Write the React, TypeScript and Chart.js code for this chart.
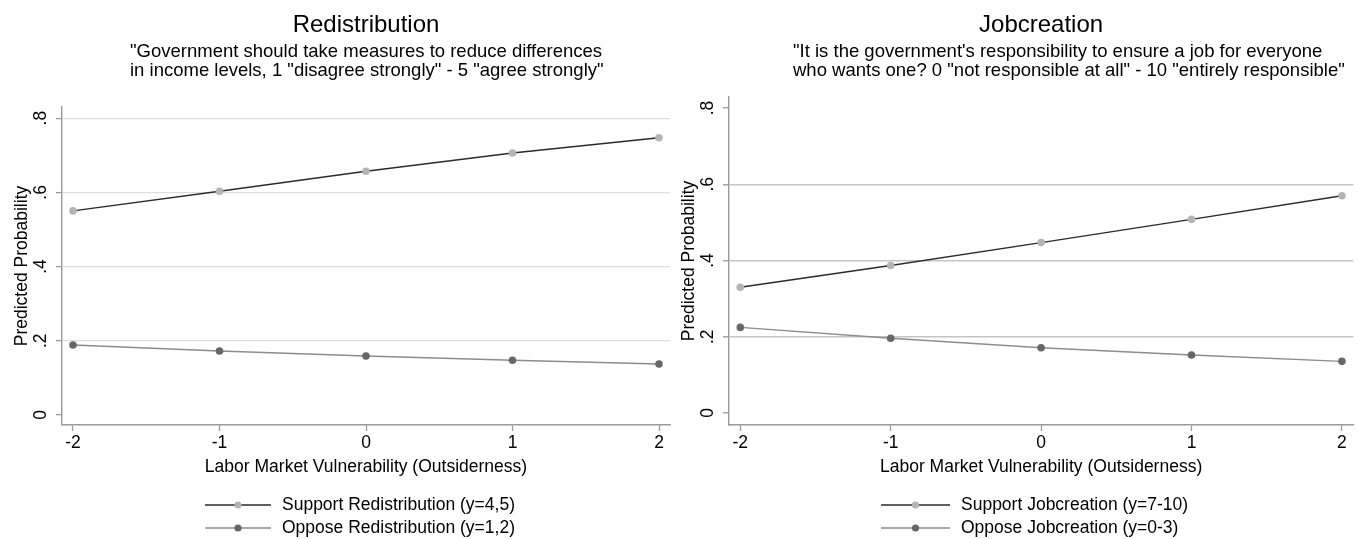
import React, { useEffect, useRef } from "react";
import { Chart, registerables } from "chart.js";

Chart.register(...registerables);

// Shared axes
const xValues = [-2, -1, 0, 1, 2];
const xTicks = [-2, -1, 0, 1, 2];
const xTickLabels = ["-2", "-1", "0", "1", "2"];
const yTicks = [0, 0.2, 0.4, 0.6, 0.8];
const yTickLabels = ["0", ".2", ".4", ".6", ".8"];

// Predicted probabilities by outsiderness
const redistSupport = [0.55, 0.603, 0.657, 0.706, 0.747];
const redistOppose = [0.1886, 0.1724, 0.159, 0.1473, 0.1374];
const jobSupport = [0.33, 0.387, 0.447, 0.508, 0.57];
const jobOppose = [0.2246, 0.196, 0.171, 0.152, 0.1355];

// Text
const redistTitle = "Redistribution";
const redistSubtitle = [
  '"Government should take measures to reduce differences',
  'in income levels, 1 "disagree strongly" - 5 "agree strongly"',
];
const jobTitle = "Jobcreation";
const jobSubtitle = [
  '"It is the government\'s responsibility to ensure a job for everyone',
  'who wants one? 0 "not responsible at all" - 10 "entirely responsible"',
];
const xAxisTitle = "Labor Market Vulnerability (Outsiderness)";
const yAxisTitle = "Predicted Probability";
const redistLegend = ["Support Redistribution (y=4,5)", "Oppose Redistribution (y=1,2)"];
const jobLegend = ["Support Jobcreation (y=7-10)", "Oppose Jobcreation (y=0-3)"];

const FONT = '"Liberation Sans", Arial, Helvetica, sans-serif';
const AXIS = "#9a9a9a";
const SUPPORT_LINE = "#2b2b2b";
const SUPPORT_DOT = "#b4b4b4";
const OPPOSE_LINE = "#8c8c8c";
const OPPOSE_DOT = "#676767";
const H = 539;

type PanelCfg = {
  left: number;
  width: number;
  title: string;
  subtitle: string[];
  subtitleX: number;
  support: number[];
  oppose: number[];
  legend: string[];
  legendLine: [number, number];
  yMin: number;
  yMax: number;
  gridValues: number[];
  gridColor: string;
  gridWidth: number;
  padding: { left: number; right: number; top: number; bottom: number };
};

const panels: PanelCfg[] = [
  {
    left: 0,
    width: 679,
    title: redistTitle,
    subtitle: redistSubtitle,
    subtitleX: 130,
    support: redistSupport,
    oppose: redistOppose,
    legend: redistLegend,
    legendLine: [205, 271],
    yMin: -0.027,
    yMax: 0.83,
    gridValues: [0.2, 0.4, 0.6, 0.8],
    gridColor: "#dedede",
    gridWidth: 1.2,
    padding: { left: 56, right: 9, top: 107, bottom: 108 },
  },
  {
    left: 679,
    width: 678,
    title: jobTitle,
    subtitle: jobSubtitle,
    subtitleX: 114,
    support: jobSupport,
    oppose: jobOppose,
    legend: jobLegend,
    legendLine: [202, 271],
    yMin: -0.0315,
    yMax: 0.829,
    gridValues: [0.2, 0.4, 0.6],
    gridColor: "#c4c4c4",
    gridWidth: 1.5,
    padding: { left: 44, right: 1, top: 97, bottom: 108 },
  },
];

function textPlugin(cfg: PanelCfg) {
  return {
    id: "panelText",
    afterDraw(chart: any) {
      const ctx: CanvasRenderingContext2D = chart.ctx;
      const { left, right, top, bottom } = chart.chartArea;
      const xs = chart.scales.x;
      const ys = chart.scales.y;
      ctx.save();
      ctx.fillStyle = "#000";

      // Title and subtitle
      ctx.font = `24px ${FONT}`;
      ctx.textAlign = "center";
      ctx.textBaseline = "alphabetic";
      ctx.fillText(cfg.title, (left + right) / 2, 32);
      ctx.font = `18.5px ${FONT}`;
      ctx.textAlign = "left";
      cfg.subtitle.forEach((line, i) => ctx.fillText(line, cfg.subtitleX, 57 + i * 19));

      // Y tick labels, rotated
      ctx.font = `17.5px ${FONT}`;
      ctx.textAlign = "center";
      ctx.textBaseline = "middle";
      yTicks.forEach((v, i) => {
        ctx.save();
        ctx.translate(left - 20.5, ys.getPixelForValue(v));
        ctx.rotate(-Math.PI / 2);
        ctx.fillText(yTickLabels[i], 0, 0);
        ctx.restore();
      });
      // Y axis title
      ctx.save();
      ctx.translate(left - 40, (top + bottom) / 2);
      ctx.rotate(-Math.PI / 2);
      ctx.fillText(yAxisTitle, 0, 0);
      ctx.restore();

      // X tick labels and title
      xTicks.forEach((v, i) => ctx.fillText(xTickLabels[i], xs.getPixelForValue(v), bottom + 18));
      ctx.fillText(xAxisTitle, (left + right) / 2, bottom + 42);

      // Legend
      const lineColors = [SUPPORT_LINE, OPPOSE_LINE];
      const dotColors = [SUPPORT_DOT, OPPOSE_DOT];
      const [lx0, lx1] = cfg.legendLine;
      cfg.legend.forEach((label, i) => {
        const y = 505 + i * 23;
        ctx.strokeStyle = lineColors[i];
        ctx.lineWidth = 1.4;
        ctx.beginPath();
        ctx.moveTo(lx0, y);
        ctx.lineTo(lx1, y);
        ctx.stroke();
        ctx.fillStyle = dotColors[i];
        ctx.beginPath();
        ctx.arc((lx0 + lx1) / 2, y, 3.6, 0, Math.PI * 2);
        ctx.fill();
        ctx.fillStyle = "#000";
        ctx.textAlign = "left";
        ctx.fillText(label, 282, y);
      });
      ctx.restore();
    },
  };
}

function Panel({ cfg }: { cfg: PanelCfg }) {
  const ref = useRef<HTMLCanvasElement>(null);
  useEffect(() => {
    if (!ref.current) return;
    const chart = new Chart(ref.current, {
      type: "line",
      data: {
        datasets: [
          {
            label: cfg.legend[0],
            data: xValues.map((x, i) => ({ x, y: cfg.support[i] })),
            borderColor: SUPPORT_LINE,
            borderWidth: 1.4,
            pointRadius: 3.8,
            pointHoverRadius: 3.8,
            pointBackgroundColor: SUPPORT_DOT,
            pointBorderWidth: 0,
            tension: 0,
          },
          {
            label: cfg.legend[1],
            data: xValues.map((x, i) => ({ x, y: cfg.oppose[i] })),
            borderColor: OPPOSE_LINE,
            borderWidth: 1.4,
            pointRadius: 3.8,
            pointHoverRadius: 3.8,
            pointBackgroundColor: OPPOSE_DOT,
            pointBorderWidth: 0,
            tension: 0,
          },
        ],
      },
      options: {
        responsive: false,
        animation: false,
        events: [],
        layout: { padding: cfg.padding },
        plugins: {
          legend: { display: false },
          title: { display: false },
          tooltip: { enabled: false },
        },
        scales: {
          x: {
            type: "linear",
            min: -2.075,
            max: 2.075,
            afterBuildTicks: (s: any) => {
              s.ticks = xTicks.map((v) => ({ value: v }));
            },
            ticks: { display: false },
            grid: {
              drawOnChartArea: false,
              drawTicks: true,
              tickLength: 6,
              tickColor: AXIS,
              tickWidth: 1.3,
            },
            border: { color: AXIS, width: 1.4 },
          },
          y: {
            type: "linear",
            min: cfg.yMin,
            max: cfg.yMax,
            afterBuildTicks: (s: any) => {
              s.ticks = yTicks.map((v) => ({ value: v }));
            },
            ticks: { display: false },
            grid: {
              color: (c: any) =>
                c.tick && cfg.gridValues.includes(c.tick.value) ? cfg.gridColor : "rgba(0,0,0,0)",
              lineWidth: cfg.gridWidth,
              drawTicks: true,
              tickLength: 6,
              tickColor: AXIS,
              tickWidth: 1.3,
            },
            border: { color: AXIS, width: 1.4 },
          },
        },
      },
      plugins: [textPlugin(cfg)],
    } as any);
    return () => chart.destroy();
  }, [cfg]);
  return (
    <canvas
      ref={ref}
      width={cfg.width}
      height={H}
      style={{ position: "absolute", left: cfg.left, top: 0, width: cfg.width, height: H }}
    />
  );
}

export default function App() {
  return (
    <div style={{ position: "absolute", left: 0, top: 0, width: 1357, height: H, background: "#fff" }}>
      {panels.map((p, i) => (
        <Panel key={i} cfg={p} />
      ))}
    </div>
  );
}
